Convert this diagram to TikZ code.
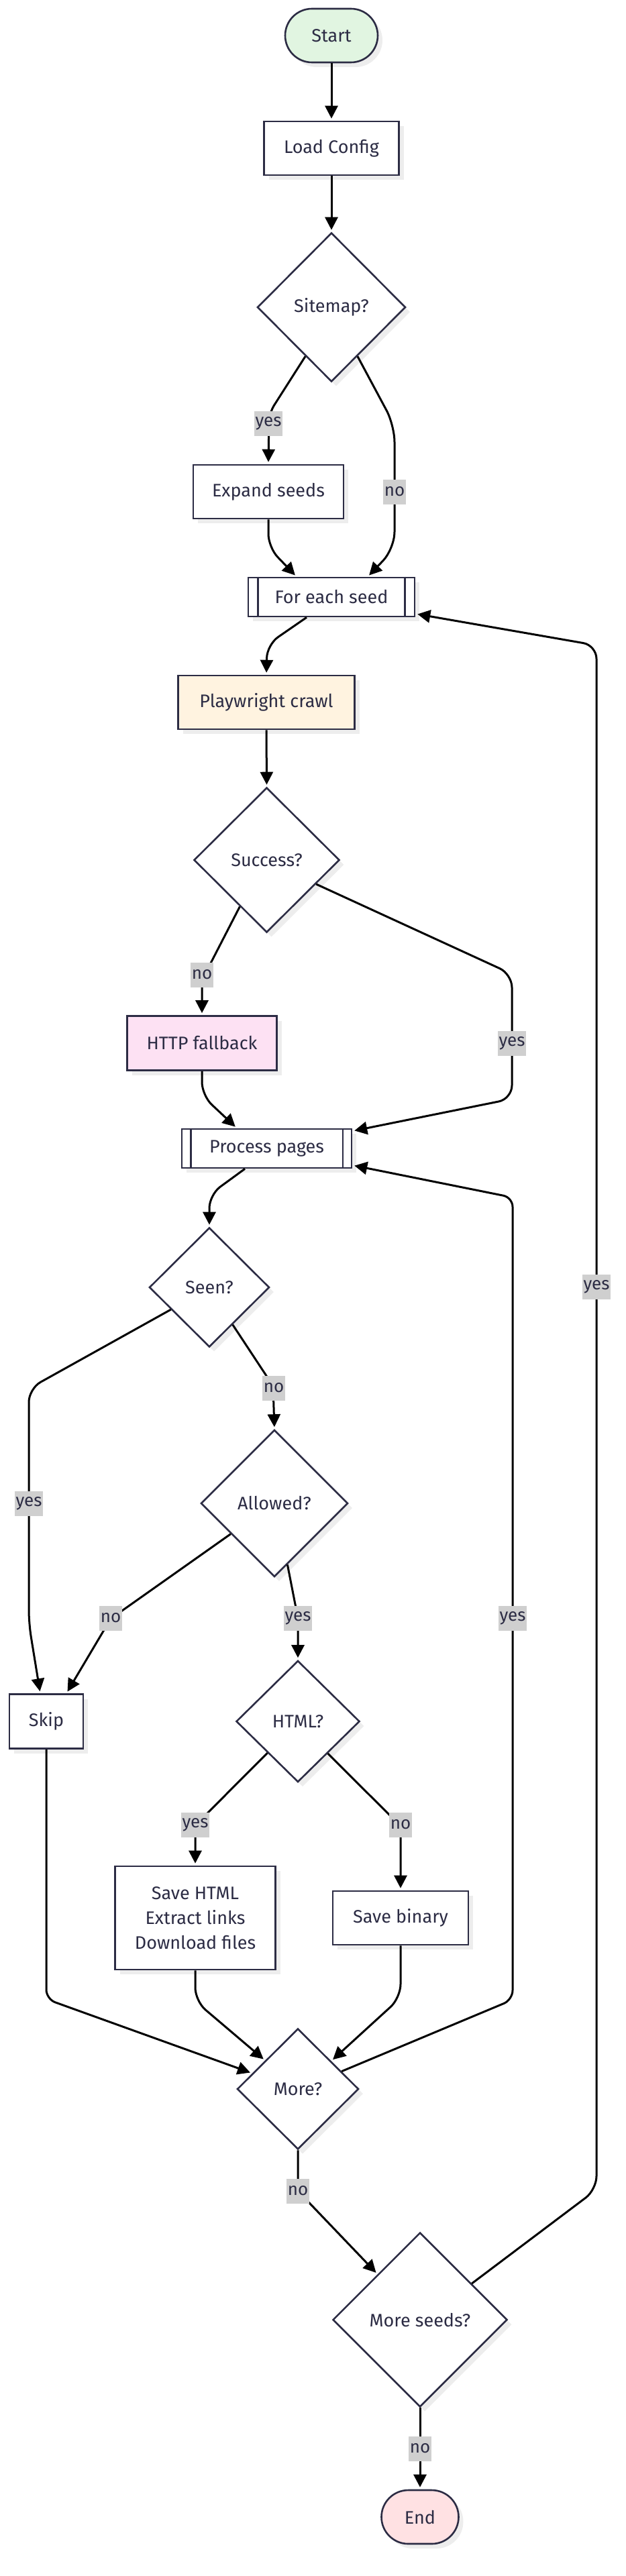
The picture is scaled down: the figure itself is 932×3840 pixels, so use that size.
\documentclass[tikz,border=0pt]{standalone}
\usepackage{fontspec}
\setmainfont{Fira Sans}
\usetikzlibrary{shapes.geometric,shapes.misc,arrows.meta,shadows}
\definecolor{bordc}{HTML}{2C2C44}
\definecolor{txtc}{HTML}{2C2C44}
\definecolor{startfill}{HTML}{E1F5E1}
\definecolor{playfill}{HTML}{FFF3E0}
\definecolor{httpfill}{HTML}{FDE1F3}
\definecolor{endfill}{HTML}{FFE1E3}
\definecolor{lblfill}{HTML}{CFCFCF}
\definecolor{shadowc}{HTML}{EDEDED}
\tikzset{
  base/.style={draw=bordc, line width=2.6pt, fill=white, text=txtc,
    font=\fontsize{27}{37}\selectfont, inner sep=0pt, align=center,
    drop shadow={shadow xshift=7pt, shadow yshift=-7pt, fill=shadowc, opacity=1}},
  box/.style={base, rectangle},
  term/.style={base, rounded rectangle},
  dec/.style={base, diamond, aspect=1},
  flow/.style={line width=3pt, draw=black, rounded corners=14pt, shorten >=3pt,
    -{Triangle[length=19pt,width=19pt]}},
  lbl/.style={fill=lblfill, text=txtc, font=\fontsize{26}{28}\selectfont,
    inner xsep=1.5pt, inner ysep=0pt, minimum height=37pt},
  subline/.style={draw=bordc, line width=2.6pt},
}
\begin{document}
\begin{tikzpicture}[x=1pt,y=-1pt]
\useasboundingbox (0,0) rectangle (932,3840);
% nodes
\node[term, fill=startfill, minimum width=138pt, minimum height=80pt] (start) at (494,53) {Start};
\node[box, minimum width=201pt, minimum height=80pt] (load) at (494,221) {Load Config};
\node[dec, minimum width=221pt, minimum height=222pt] (sitemap) at (494,458) {Sitemap?};
\node[box, minimum width=224pt, minimum height=80pt] (expand) at (400,733) {Expand seeds};
\node[box, minimum width=248pt, minimum height=58pt] (foreach) at (494,890) {For each seed};
\node[box, fill=playfill, minimum width=263pt, minimum height=80pt] (play) at (397,1047) {Playwright crawl};
\node[dec, minimum width=217pt, minimum height=216pt] (success) at (397.5,1282) {Success?};
\node[box, fill=httpfill, minimum width=223pt, minimum height=81pt] (http) at (301,1555) {HTTP fallback};
\node[box, minimum width=253pt, minimum height=58pt] (process) at (397.5,1712) {Process pages};
\node[dec, minimum width=179pt, minimum height=178pt] (seen) at (312,1919) {Seen?};
\node[dec, minimum width=219pt, minimum height=219pt] (allowed) at (409,2241) {Allowed?};
\node[box, minimum width=110pt, minimum height=81pt] (skip) at (69,2566) {Skip};
\node[dec, minimum width=184pt, minimum height=181pt] (html) at (444,2566) {HTML?};
\node[box, minimum width=239pt, minimum height=154pt] (savehtml) at (291,2859) {Save HTML\\Extract links\\Download files};
\node[box, minimum width=202pt, minimum height=80pt] (savebin) at (597,2859) {Save binary};
\node[dec, minimum width=181pt, minimum height=180pt] (more) at (444,3114) {More?};
\node[dec, minimum width=260pt, minimum height=260pt] (moreseeds) at (626,3458) {More seeds?};
\node[term, fill=endfill, minimum width=115pt, minimum height=80pt] (end) at (626,3752) {End};
% subroutine side lines
\draw[subline] ([xshift=16pt]foreach.north west) -- ([xshift=16pt]foreach.south west);
\draw[subline] ([xshift=-16pt]foreach.north east) -- ([xshift=-16pt]foreach.south east);
\draw[subline] ([xshift=14.5pt]process.north west) -- ([xshift=14.5pt]process.south west);
\draw[subline] ([xshift=-14.5pt]process.north east) -- ([xshift=-14.5pt]process.south east);
% edges
\draw[flow] (start.south) -- (load.north);
\draw[flow] (load.south) -- (sitemap.north);
\draw[flow] (sitemap.242) -- (401,616) -- (expand.north);
\draw[flow, rounded corners=25pt] (sitemap.298) -- (588,634) -- (588,818) -- ([xshift=54pt]foreach.north);
\draw[flow, rounded corners=20pt] (expand.south) -- (400,816) -- ([xshift=-52pt]foreach.north);
\draw[flow, rounded corners=20pt] ([xshift=-37pt]foreach.south) -- (398,961) -- (play.north);
\draw[flow] (play.south) -- (success.north);
\draw[flow] (success.240) -- (301,1461) -- (http.north);
\draw[flow, rounded corners=20pt] (success.334) -- (763,1452) -- (763,1638) -- ([yshift=26pt]process.east);
\draw[flow, rounded corners=20pt] (http.south) -- (301,1633) -- ([xshift=-44.5pt]process.north);
\draw[flow, rounded corners=20pt] ([xshift=-32.5pt]process.south) -- (312,1781) -- (seen.north);
\draw[flow, rounded corners=20pt] (seen.210) -- (43,2070) -- (43,2420) -- ([xshift=-9pt]skip.north);
\draw[flow] (seen.302.7) -- (407,2066) -- (allowed.north);
\draw[flow, rounded corners=20pt] (allowed.215.9) -- (165,2413) -- ([xshift=30pt]skip.north);
\draw[flow] (allowed.282) -- (444,2412) -- (html.north);
\draw[flow] (html.226.8) -- (291,2721) -- (savehtml.north);
\draw[flow] (html.313.8) -- (597,2722) -- (savebin.north);
\draw[flow] (skip.south) -- (69,2980) -- (more.161.6);
\draw[flow, rounded corners=20pt] (savehtml.south) -- (291,2983) -- (more.139.6);
\draw[flow, rounded corners=20pt] (savebin.south) -- (597,2978) -- (more.40);
\draw[flow] (more.22.2) -- (764,2981) -- (764,1785) -- ([yshift=-25pt]process.east);
\draw[flow] (more.south) -- (444,3266) -- (moreseeds.133.8);
\draw[flow, rounded corners=20pt] (moreseeds.35) -- (889,3264) -- (889,962) -- ([yshift=-25pt]foreach.east);
\draw[flow] (moreseeds.south) -- (end.north);
% labels
\node[lbl] (l1) at (400,631) {yes};
\node[lbl] (l2) at (588,733) {no};
\node[lbl] (l3) at (301,1453) {no};
\node[lbl] (l4) at (763,1555) {yes};
\node[lbl] (l5) at (408,2069) {no};
\node[lbl] (l6) at (43,2241) {yes};
\node[lbl] (l7) at (165,2412) {no};
\node[lbl] (l8) at (444,2412) {yes};
\node[lbl] (l9) at (764,2412) {yes};
\node[lbl] (l10) at (889,1918) {yes};
\node[lbl] (l11) at (291,2720) {yes};
\node[lbl] (l12) at (597,2720) {no};
\node[lbl] (l13) at (444,3266) {no};
\node[lbl] (l14) at (626,3650) {no};
\end{tikzpicture}
\end{document}
